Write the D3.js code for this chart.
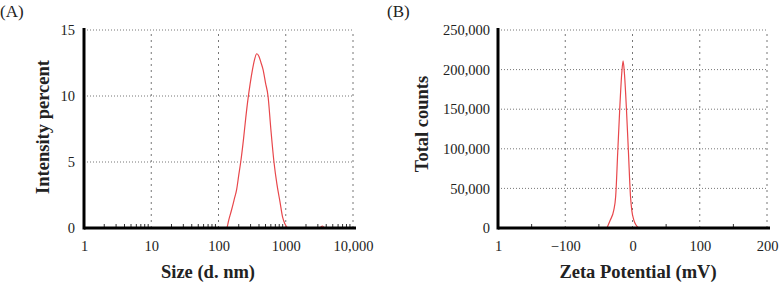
<!DOCTYPE html>
<html lang="en">
<head>
<meta charset="UTF-8">
<title>DLS and zeta potential</title>
<script src="https://d3js.org/d3.v7.min.js"></script>
<style>
    body { margin: 0; background: #fff; }
    svg text { font-family: "Liberation Serif", "DejaVu Serif", serif; fill: #222; }
    .tick text { font-size: 14.5px; }
    .title { font-size: 18.5px; font-weight: bold; }
    .panel-label { font-size: 17px; }
</style>
</head>
<body>
<script>

// panel A: size distribution by intensity
const sizeNm = [1, 100, 132, 142, 157, 172, 186, 200, 214, 235, 255, 275, 295, 320, 345, 370, 400, 430, 460, 500, 545, 600, 668, 740, 820, 900, 975, 1050, 1100, 3200, 3500, 3800, 10000];
const intensity = [0, 0, 0, 0.6, 1.4, 2.2, 2.9, 4.0, 5.0, 6.7, 8.4, 9.8, 10.9, 12.0, 12.8, 13.2, 13.0, 12.5, 12.0, 11.0, 10.0, 7.5, 5.0, 3.3, 2.0, 0.8, 0.3, 0.05, 0, 0, 0.15, 0, 0];
const sizeTicks = [1, 10, 100, 1000, 10000];
const sizeTickLabels = ['1', '10', '100', '1000', '10,000'];
const intensityTicks = [0, 5, 10, 15];

// panel B: zeta potential distribution
const zetaMv = [-38, -33, -28, -25, -22, -19, -16, -14, -12, -9, -6, -3, -1, 2, 5, 9];
const counts = [0, 10000, 22000, 40000, 95000, 150000, 195000, 211000, 195000, 150000, 95000, 40000, 22000, 10000, 4000, 0];
const zetaTicks = [-200, -100, 0, 100, 200];
const zetaTickLabels = ['1', '\u2212100', '0', '100', '200'];
const zetaMinor = [-150, -50, 50, 150];
const countTicks = [0, 50000, 100000, 150000, 200000, 250000];

const svg = d3.select('body').append('svg')
    .attr('width', 781)
    .attr('height', 283);

function drawPanel(p) {
    const g = svg.append('g');

    // dotted grid
    g.selectAll('.hgrid')
        .data(p.yTicks.slice(1))
        .enter()
        .append('line')
        .attr('x1', p.x.range()[0])
        .attr('x2', p.x.range()[1])
        .attr('y1', d => p.y(d))
        .attr('y2', d => p.y(d))
        .style('stroke', '#777')
        .style('stroke-width', '1px')
        .style('stroke-dasharray', '1,2');
    g.selectAll('.vgrid')
        .data(p.xTicks.slice(1))
        .enter()
        .append('line')
        .attr('x1', d => p.x(d))
        .attr('x2', d => p.x(d))
        .attr('y1', p.y.range()[0])
        .attr('y2', p.y.range()[1])
        .style('stroke', '#777')
        .style('stroke-width', '1px')
        .style('stroke-dasharray', '2,4');

    // axes: labels only, lines drawn below
    g.append('g')
        .attr('transform', `translate(0,${p.y.range()[0]})`)
        .call(d3.axisBottom(p.x).tickValues(p.xTicks).tickFormat((d, i) => p.xLabels[i]).tickSize(0).tickPadding(13))
        .call(a => a.select('.domain').remove());
    g.append('g')
        .attr('transform', `translate(${p.x.range()[0]},0)`)
        .call(d3.axisLeft(p.y).tickValues(p.yTicks).tickFormat(p.yFormat).tickSize(0).tickPadding(p.yPad))
        .call(a => a.select('.domain').remove());
    g.selectAll('.tick text').style('font-family', null).attr('fill', '#222');

    // minor ticks pointing up from the x axis
    g.selectAll('.minor')
        .data(p.minor)
        .enter()
        .append('line')
        .attr('x1', d => p.x(d))
        .attr('x2', d => p.x(d))
        .attr('y1', p.y.range()[0])
        .attr('y2', p.y.range()[0] - 4)
        .style('stroke', '#333')
        .style('stroke-width', '1px');

    // curve
    const line = d3.line()
        .x(d => p.x(d[0]))
        .y(d => p.y(d[1]))
        .curve(d3.curveMonotoneX);
    g.append('path')
        .datum(d3.zip(p.xs, p.ys))
        .attr('d', line)
        .style('fill', 'none')
        .style('stroke', '#e8474b')
        .style('stroke-width', '1.2px');

    // thick axis lines
    const x0 = p.x.range()[0], x1 = p.x.range()[1] + 3;
    const y0 = p.y.range()[0], y1 = p.y.range()[1] - 2;
    g.append('line')
        .attr('x1', x0).attr('x2', x1).attr('y1', y0).attr('y2', y0)
        .style('stroke', '#000').style('stroke-width', '3px');
    g.append('line')
        .attr('x1', x0).attr('x2', x0).attr('y1', y0 + 1.5).attr('y2', y1)
        .style('stroke', '#000').style('stroke-width', '3px');

    // titles
    g.append('text')
        .attr('class', 'title')
        .attr('x', p.xTitlePos[0])
        .attr('y', p.xTitlePos[1])
        .attr('text-anchor', 'middle')
        .text(p.xTitle);
    g.append('text')
        .attr('class', 'title')
        .attr('transform', `translate(${p.yTitlePos[0]},${p.yTitlePos[1]}) rotate(-90)`)
        .attr('text-anchor', 'middle')
        .text(p.yTitle);
    g.append('text')
        .attr('class', 'panel-label')
        .attr('x', p.labelPos[0])
        .attr('y', p.labelPos[1])
        .text(p.label);
}

const xA = d3.scaleLog().domain([1, 10000]).range([84, 353]);
const yA = d3.scaleLinear().domain([0, 15]).range([228, 30]);
drawPanel({
    x: xA, y: yA,
    xs: sizeNm, ys: intensity,
    xTicks: sizeTicks, xLabels: sizeTickLabels,
    yTicks: intensityTicks, yFormat: d3.format('d'), yPad: 9,
    minor: xA.ticks().filter(d => !sizeTicks.includes(d)),
    xTitle: 'Size (d. nm)', xTitlePos: [208, 278],
    yTitle: 'Intensity percent', yTitlePos: [49, 127],
    label: '(A)', labelPos: [0, 17]
});

const xB = d3.scaleLinear().domain([-200, 200]).range([498, 767]);
const yB = d3.scaleLinear().domain([0, 250000]).range([228, 30]);
drawPanel({
    x: xB, y: yB,
    xs: zetaMv, ys: counts,
    xTicks: zetaTicks, xLabels: zetaTickLabels,
    yTicks: countTicks, yFormat: d3.format(','), yPad: 8,
    minor: zetaMinor,
    xTitle: 'Zeta Potential (mV)', xTitlePos: [638, 278],
    yTitle: 'Total counts', yTitlePos: [428, 124],
    label: '(B)', labelPos: [387, 17]
});

</script>
</body>
</html>
